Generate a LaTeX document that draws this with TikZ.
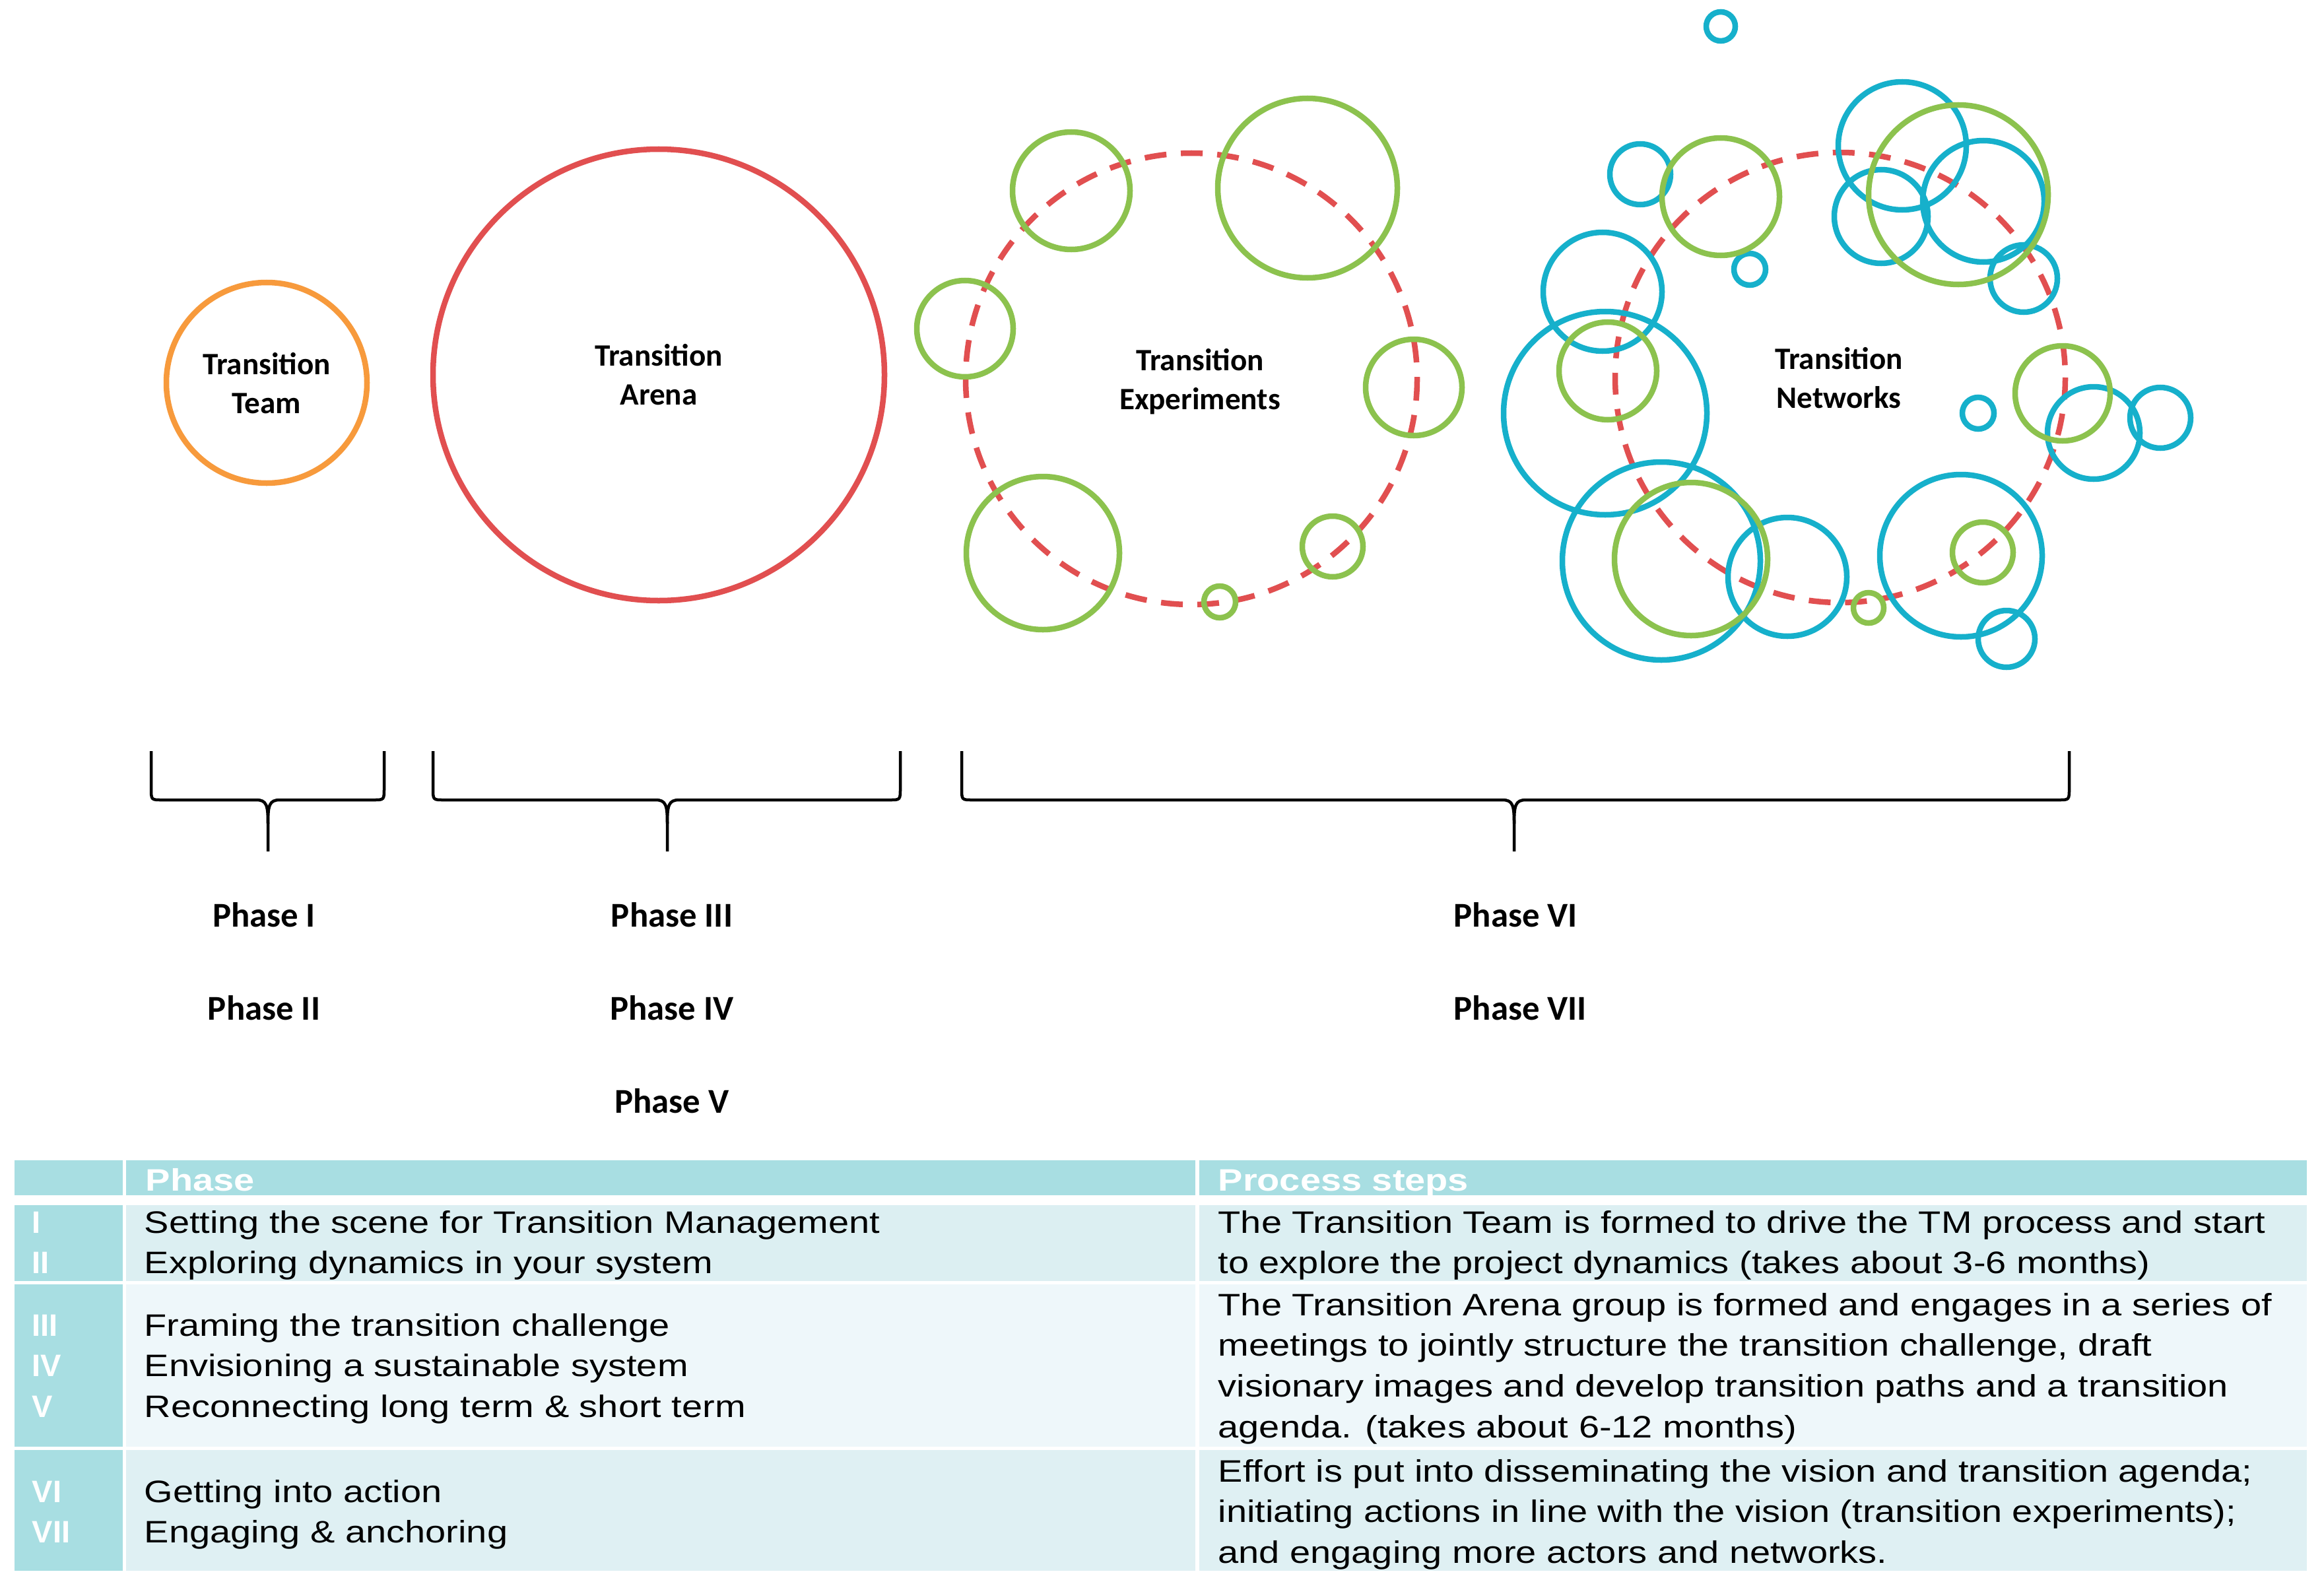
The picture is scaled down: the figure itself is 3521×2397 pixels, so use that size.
\documentclass[tikz,border=0pt]{standalone}
\usepackage{fontspec}
\setmainfont{Liberation Sans}
\newfontfamily\lblfont{Carlito}
\newfontfamily\tabfont[FakeStretch=1.19]{Liberation Sans}
\newfontfamily\numfont{Liberation Sans}
\definecolor{cOrange}{HTML}{F79A3C}
\definecolor{cRed}{HTML}{E14F50}
\definecolor{cGreen}{HTML}{8CC24E}
\definecolor{cBlue}{HTML}{16B0CB}
\definecolor{cHead}{HTML}{A8DEE2}
\definecolor{cRowA}{HTML}{DCEFF2}
\definecolor{cRowB}{HTML}{EEF7FA}
\definecolor{cRowC}{HTML}{DFF0F3}
\newcommand\twoline[2]{\begin{tabular}[t]{@{}c@{}}#1\\#2\end{tabular}}
\newcommand\linesof[1]{\begin{tabular}[t]{@{}l@{}}#1\end{tabular}}
\newcommand\gring[3]{\draw[ring,cGreen] (#1,#2) circle[radius=#3];}
\newcommand\bring[3]{\draw[ring,cBlue] (#1,#2) circle[radius=#3];}
\newcommand\bracketpath[3]{%
  \draw[bracketline] (#1,1138) -- (#1,1194) .. controls (#1,1212) .. (#1+16,1212)
     -- (#2-18,1212) .. controls (#2-2,1212) and (#2,1220) .. (#2,1248) -- (#2,1290);
  \draw[bracketline] (#3,1138) -- (#3,1194) .. controls (#3,1212) .. (#3-16,1212)
     -- (#2+18,1212) .. controls (#2+2,1212) and (#2,1220) .. (#2,1248);}
\begin{document}
\begin{tikzpicture}[x=0.01cm,y=-0.01cm,
  ring/.style={line width=0.085cm},
  dashring/.style={draw=cRed,line width=0.085cm,dash pattern=on 0.33cm off 0.22cm},
  bracketline/.style={line width=0.045cm,draw=black},
  circlabel/.style={font=\lblfont\bfseries\fontsize{13.4}{16.8}\selectfont,inner sep=0,anchor=base},
  phaselabel/.style={font=\lblfont\bfseries\fontsize{15}{18}\selectfont,inner sep=0,anchor=base},
  tabtext/.style={font=\tabfont\fontsize{13.37}{17.6}\selectfont,inner sep=0,anchor=base west},
  tabhead/.style={font=\tabfont\bfseries\fontsize{13.37}{17.6}\selectfont,text=white,inner sep=0,anchor=base west},
  tabnum/.style={font=\numfont\bfseries\fontsize{13.37}{17.6}\selectfont,text=white,inner sep=0,anchor=base west}]
\useasboundingbox (0,0) rectangle (3521,2397);
\fill[white] (0,0) rectangle (3521,2397);

% ---- Transition Team
\draw[ring,cOrange] (404,580) circle[radius=152];
\node[circlabel] (team) at (404,567) {\twoline{Transition}{Team}};

% ---- Transition Arena
\draw[ring,cRed] (998,568) circle[radius=342];
\node[circlabel] (arena) at (998,554) {\twoline{Transition}{Arena}};

% ---- Transition Experiments
\draw[dashring] (1805,574) circle[radius=342];
\gring{1623}{289}{89}
\gring{1981}{285}{136}
\gring{1462}{498}{73}
\gring{2142}{587}{73}
\gring{1580}{838}{116}
\gring{2019}{828}{46}
\gring{1848}{912}{24}
\node[circlabel] (exper) at (1818,561) {\twoline{Transition}{Experiments}};

% ---- Transition Networks
\draw[dashring] (2788,572) circle[radius=341];
\bring{2607}{40}{22}
\bring{2485}{264}{46}
\bring{2651}{408}{24}
\bring{2428}{442}{90}
\bring{2432}{626}{154}
\bring{2517}{850}{150}
\bring{2708}{874}{90}
\bring{2971}{842}{123}
\bring{3040}{968}{43}
\bring{2882}{221}{97}
\bring{2850}{328}{71}
\bring{3005}{305}{92}
\bring{3066}{422}{51}
\bring{3172}{656}{70}
\bring{3273}{633}{46}
\bring{2997}{626}{24}
\gring{2607}{298}{89}
\gring{2436}{562}{74}
\gring{2562}{847}{116}
\gring{2831}{921}{23}
\gring{3004}{837}{46}
\gring{2967}{295}{136}
\gring{3125}{596}{72}
\node[circlabel] (netw) at (2786,559) {\twoline{Transition}{Networks}};

% ---- brackets
\bracketpath{229}{406}{582}
\bracketpath{656}{1011}{1364}
\bracketpath{1457}{2294}{3135}

% ---- phase labels
\node[phaselabel] (p1) at (400,1404) {Phase I};
\node[phaselabel] (p2) at (400,1545) {Phase II};
\node[phaselabel] (p3) at (1018,1404) {Phase III};
\node[phaselabel] (p4) at (1018,1545) {Phase IV};
\node[phaselabel] (p5) at (1018,1686) {Phase V};
\node[phaselabel,anchor=base west] (p6) at (2202,1404) {Phase VI};
\node[phaselabel,anchor=base west] (p7) at (2202,1545) {Phase VII};

% ---- table backgrounds
\fill[cHead] (22,1758) rectangle (186,1811);
\fill[cHead] (191,1758) rectangle (1811,1811);
\fill[cHead] (1817,1758) rectangle (3495,1811);
\fill[cHead] (22,1826) rectangle (186,1941);
\fill[cRowA] (191,1826) rectangle (1811,1941);
\fill[cRowA] (1817,1826) rectangle (3495,1941);
\fill[cHead] (22,1946) rectangle (186,2192);
\fill[cRowB] (191,1946) rectangle (1811,2192);
\fill[cRowB] (1817,1946) rectangle (3495,2192);
\fill[cHead] (22,2197) rectangle (186,2380);
\fill[cRowC] (191,2197) rectangle (1811,2380);
\fill[cRowC] (1817,2197) rectangle (3495,2380);

% ---- table header
\node[tabhead] (hphase) at (220,1804) {Phase};
\node[tabhead] (hsteps) at (1845,1804) {Process steps};

% ---- row 1
\node[tabnum] (n1) at (48,1868) {\linesof{I\\II}};
\node[tabtext] (ph1) at (218,1868) {\linesof{Setting the scene for Transition Management\\Exploring dynamics in your system}};
\node[tabtext] (ps1) at (1845,1868) {\linesof{The Transition Team is formed to drive the TM process and start\\to explore the project dynamics (takes about 3-6 months)}};

% ---- row 2
\node[tabnum] (n2) at (48,2024) {\linesof{III\\IV\\V}};
\node[tabtext] (ph2) at (218,2024) {\linesof{Framing the transition challenge\\Envisioning a sustainable system\\Reconnecting long term \& short term}};
\node[tabtext] (ps2) at (1845,1993) {\linesof{The Transition Arena group is formed and engages in a series of\\meetings to jointly structure the transition challenge, draft\\visionary images and develop transition paths and a transition\\agenda. (takes about 6-12 months)}};

% ---- row 3
\node[tabnum] (n3) at (48,2276) {\linesof{VI\\VII}};
\node[tabtext] (ph3) at (218,2276) {\linesof{Getting into action\\Engaging \& anchoring}};
\node[tabtext] (ps3) at (1845,2245) {\linesof{Effort is put into disseminating the vision and transition agenda;\\initiating actions in line with the vision (transition experiments);\\and engaging more actors and networks.}};
\end{tikzpicture}
\end{document}
